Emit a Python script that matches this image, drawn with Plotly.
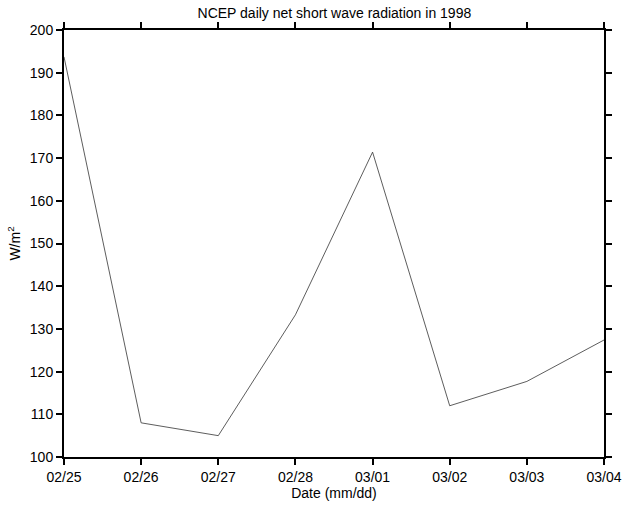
import plotly.graph_objects as go

dates = ["02/25", "02/26", "02/27", "02/28", "03/01", "03/02", "03/03", "03/04"]
radiation = [193.7, 108.0, 105.0, 133.3, 171.4, 112.0, 117.7, 127.4]
y_ticks = [100, 110, 120, 130, 140, 150, 160, 170, 180, 190, 200]

x_idx = list(range(len(dates)))
FONT = "Liberation Sans, Arial, sans-serif"

fig = go.Figure()
fig.add_trace(go.Scatter(x=x_idx, y=radiation, mode="lines",
                         line=dict(color="#333333", width=0.8), showlegend=False))

axis_common = dict(showline=True, linecolor="black", linewidth=2, mirror="allticks",
                   ticks="outside", ticklen=6, tickwidth=2, tickcolor="black",
                   showgrid=False, zeroline=False, automargin=False,
                   tickfont=dict(family=FONT, size=14, color="black"))

fig.update_xaxes(range=[0, 7], tickvals=x_idx, ticktext=dates,
                 title=dict(text="Date (mm/dd)", standoff=2,
                            font=dict(family=FONT, size=14, color="black")),
                 **axis_common)
fig.update_yaxes(range=[100, 200], tickvals=y_ticks,
                 title=dict(text="W/m<sup>2</sup>", standoff=6,
                            font=dict(family=FONT, size=14, color="black")),
                 **axis_common)

fig.update_layout(
    width=625, height=506,
    margin=dict(l=64, r=21, t=30, b=49),
    paper_bgcolor="white", plot_bgcolor="white",
    title=dict(text="NCEP daily net short wave radiation in 1998", x=0.535, xanchor="center",
               y=0.975, yanchor="middle",
               font=dict(family=FONT, size=14, color="black")),
)

fig.write_html("out.html", config={"displayModeBar": False},
               post_script="document.body.style.margin='0';document.body.style.overflow='hidden';")
